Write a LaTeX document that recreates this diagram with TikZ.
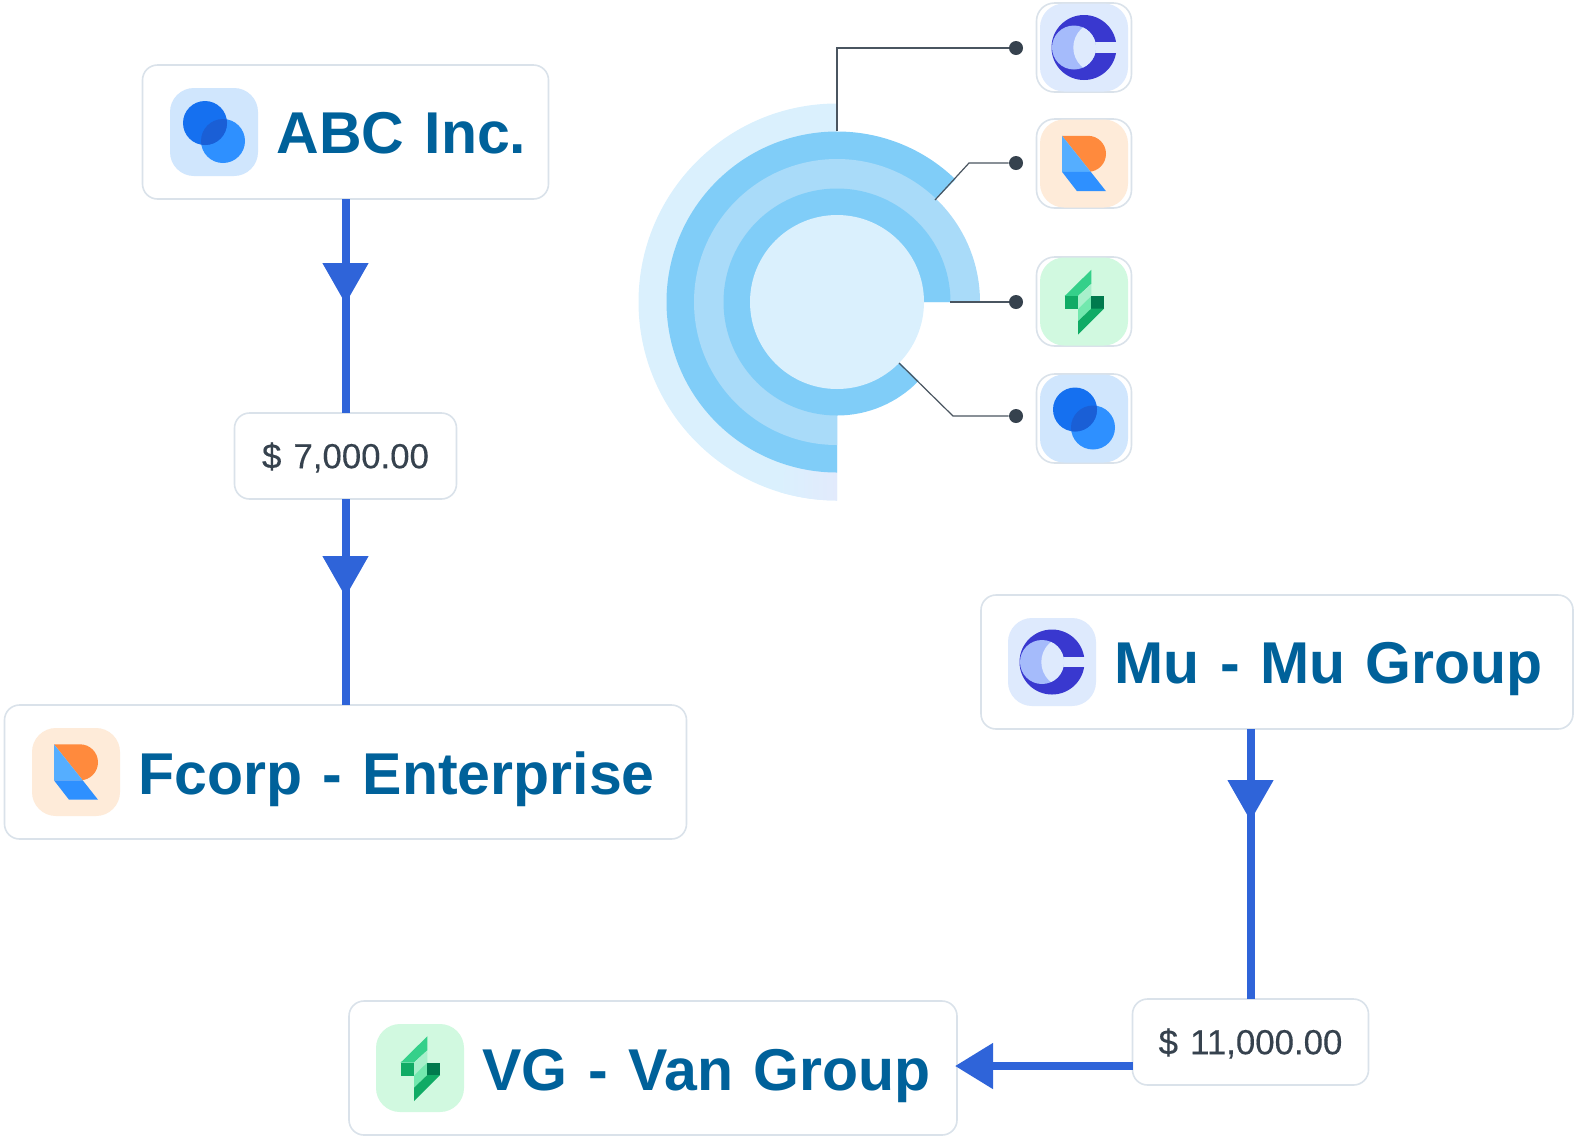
\documentclass[tikz,border=0pt]{standalone}
\usepackage{fontspec}
\setmainfont{Liberation Sans}[WordSpace=1.25]
\usepackage{xcolor}
\usetikzlibrary{calc,positioning,arrows.meta,decorations.markings}

\definecolor{paleRing}{HTML}{DAF0FD}
\definecolor{tintRing}{HTML}{E2EAFC}
\definecolor{midRing}{HTML}{80CDF8}
\definecolor{softRing}{HTML}{A9DBF9}
\definecolor{flowBlue}{HTML}{2F64D9}
\definecolor{titleBlue}{HTML}{00619A}
\definecolor{inkGrey}{HTML}{36424E}
\definecolor{edgeGrey}{HTML}{DAE2EA}

\tikzset{
  card/.style={draw=edgeGrey, fill=white, line width=0.8pt, rounded corners=7.5pt, inner sep=0pt, outer sep=0pt},
  bigcard/.style={card, minimum height=67pt},
  smallcard/.style={card, minimum width=47.5pt, minimum height=44.5pt, rounded corners=9pt},
  amount/.style={card, minimum height=43pt, text=inkGrey, text height=12.2pt, text depth=0pt,
      font=\addfontfeature{FakeBold=0.3}\fontsize{17.4}{20}\selectfont},
  title/.style={text=titleBlue, anchor=base west, inner sep=0pt, font=\bfseries\fontsize{29.5}{36}\selectfont},
  tile/.style={minimum size=44pt, inner sep=0pt, rounded corners=12pt},
  dot/.style={circle, fill=inkGrey, minimum size=7pt, inner sep=0pt},
  leader/.style={draw=inkGrey!90, line width=0.6pt},
  flow/.style={draw=flowBlue, line width=4pt},
  flowmark/.style={flow, postaction={decorate}, decoration={markings,
      mark=at position #1 with {\arrow{Triangle[length=20.5pt,width=22pt,flowBlue]}}}},
  % logos, drawn round the middle of their tile
  pics/circlesLogo/.style={code={
    \node[tile, fill={rgb,255:red,208;green,230;blue,253}] (-t) at (0,0) {};
    \fill[fill={rgb,255:red,46;green,144;blue,255}] (9,-9) circle (22);
    \fill[fill={rgb,255:red,21;green,112;blue,240}] (-9,9) circle (22);
    \begin{scope}
      \clip (9,-9) circle (22);
      \fill[fill={rgb,255:red,26;green,95;blue,214}] (-9,9) circle (22);
    \end{scope}
  }},
  pics/moonLogo/.style={code={
    \node[tile, fill={rgb,255:red,222;green,234;blue,253}] (-t) at (0,0) {};
    \fill[fill={rgb,255:red,57;green,56;blue,207}] (0,0) circle (32.5);
    \fill[fill={rgb,255:red,222;green,234;blue,253}] (5,-5.2) rectangle (34,5.2);
    \fill[fill={rgb,255:red,165;green,187;blue,251}] (-10,0) circle (22);
    \begin{scope}
      \clip (-10,0) circle (22);
      \fill[fill={rgb,255:red,222;green,234;blue,253}] (15,0) circle (25.7);
    \end{scope}
  }},
  pics/foldLogo/.style={code={
    \node[tile, fill={rgb,255:red,254;green,235;blue,217}] (-t) at (0,0) {};
    \fill[fill={rgb,255:red,255;green,138;blue,61}] (-22,27.7) -- (4,27.7) arc (90:-90:18) -- (6.7,-8.3) -- cycle;
    \fill[fill={rgb,255:red,85;green,174;blue,255}] (-22,27.7) -- (-22,-8.3) -- (6.7,-8.3) -- cycle;
    \fill[fill={rgb,255:red,46;green,144;blue,255}] (-22,-8.3) -- (6.7,-8.3) -- (22,-27.7) -- (-7,-27.7) -- cycle;
  }},
  pics/boltLogo/.style={code={
    \node[tile, fill={rgb,255:red,209;green,249;blue,224}] (-t) at (0,0) {};
    \fill[fill={rgb,255:red,53;green,208;blue,138}] (7.3,31.7) -- (7.3,17.7) -- (-6,5.5) -- (-19.3,5.5) -- cycle;
    \fill[fill={rgb,255:red,16;green,171;blue,101}] (-19.3,5.5) rectangle (-6,-7.5);
    \fill[fill={rgb,255:red,168;green,240;blue,203}] (7.3,17.7) -- (7.3,5.5) -- (-6,-7.5) -- (-6,5.5) -- cycle;
    \fill[fill={rgb,255:red,114;green,232;blue,174}] (7.3,5.5) -- (7.3,-7) -- (-6,-19.7) -- (-6,-7.5) -- cycle;
    \fill[fill={rgb,255:red,0;green,122;blue,77}] (7.3,5.5) rectangle (20,-7);
    \fill[fill={rgb,255:red,16;green,171;blue,101}] (20,-7) -- (-6,-33) -- (-6,-19.7) -- (7.3,-7) -- cycle;
  }},
}

\begin{document}
\begin{tikzpicture}[x=0.5pt, y=0.5pt]
\useasboundingbox (0,0) rectangle (1578,-1142);

% rings
\coordinate (hub) at (837,-302);
\fill[paleRing] (hub) -- +(90:198.5) arc (90:270:198.5) -- cycle;
\shade[left color=paleRing, right color=tintRing] (hub) -- +(253:198.5) arc (253:270:198.5) -- cycle;
\fill[midRing] (hub) -- +(46:170.5) arc (46:270:170.5) -- cycle;
\fill[softRing] (hub) -- +(0:143) arc (0:270:143) -- cycle;
\fill[midRing] (hub) -- +(-44:113.5) arc (-44:-90:113.5) -- cycle;
\fill[midRing] (hub) -- +(-90:113.5) arc (270:0:113.5) -- cycle;
\fill[paleRing] (hub) circle (87);

% logo column
\node[smallcard] (cardA) at (1084,-47.5) {};
\node[smallcard] (cardB) at (1084,-163.5) {};
\node[smallcard] (cardC) at (1084,-301.5) {};
\node[smallcard] (cardD) at (1084,-418.5) {};
\pic (logoA) at (1084,-47.5) {moonLogo};
\pic (logoB) at (1084,-163.5) {foldLogo};
\pic (logoC) at (1084,-301.5) {boltLogo};
\pic (logoD) at (1084,-418.5) {circlesLogo};

\node[dot] (dotA) at (1016,-48) {};
\node[dot] (dotB) at (1016,-163) {};
\node[dot] (dotC) at (1016,-302) {};
\node[dot] (dotD) at (1016,-416) {};

\coordinate (startA) at (837,-131);
\coordinate (startB) at (935,-200);
\coordinate (bendB) at (969,-163);
\coordinate (startC) at (950,-302);
\coordinate (startD) at (899,-363);
\coordinate (bendD) at (953,-416);
\draw[leader] (startA) |- (dotA);
\draw[leader] (startB) -- (bendB) -- (dotB);
\draw[leader] (startC) -- (dotC);
\draw[leader] (startD) -- (bendD) -- (dotD);

% cards
\node[bigcard, minimum width=203pt] (abc) at (345.5,-132) {};
\node[bigcard, minimum width=341pt] (fcorp) at (345.5,-772) {};
\node[bigcard, minimum width=296pt] (mu) at (1277,-662) {};
\node[bigcard, minimum width=304pt] (vg) at (653,-1068) {};
\node[amount, minimum width=111pt] (sevenK) at (345.5,-456) {\$ 7,000.00};
\node[amount, minimum width=118pt] (elevenK) at (1250.5,-1042) {\$ 11,000.00};

\pic (abcLogo) at (214,-132) {circlesLogo};
\pic (fcorpLogo) at (76,-772) {foldLogo};
\pic (muLogo) at (1052,-662) {moonLogo};
\pic (vgLogo) at (420,-1068) {boltLogo};

\node[title] (abcName) at (276,-153) {ABC Inc.};
\node[title] (fcorpName) at (138,-794) {Fcorp - Enterprise};
\node[title] (muName) at (1114,-683) {Mu - Mu Group};
\node[title] (vgName) at (482,-1090) {VG - Van Group};

% flows
\draw[flowmark=52.5pt] (abc) -- (sevenK);
\draw[flowmark=49pt] (sevenK) -- (fcorp);
\draw[flowmark=46pt] (mu.south -| elevenK.north) -- (elevenK);
\draw[flow, -{Triangle[length=19pt,width=22pt]}, shorten >=-1pt] (elevenK.west |- {$(vg.east)+(0,2)$}) -- ($(vg.east)+(0,2)$);
\end{tikzpicture}
\end{document}
